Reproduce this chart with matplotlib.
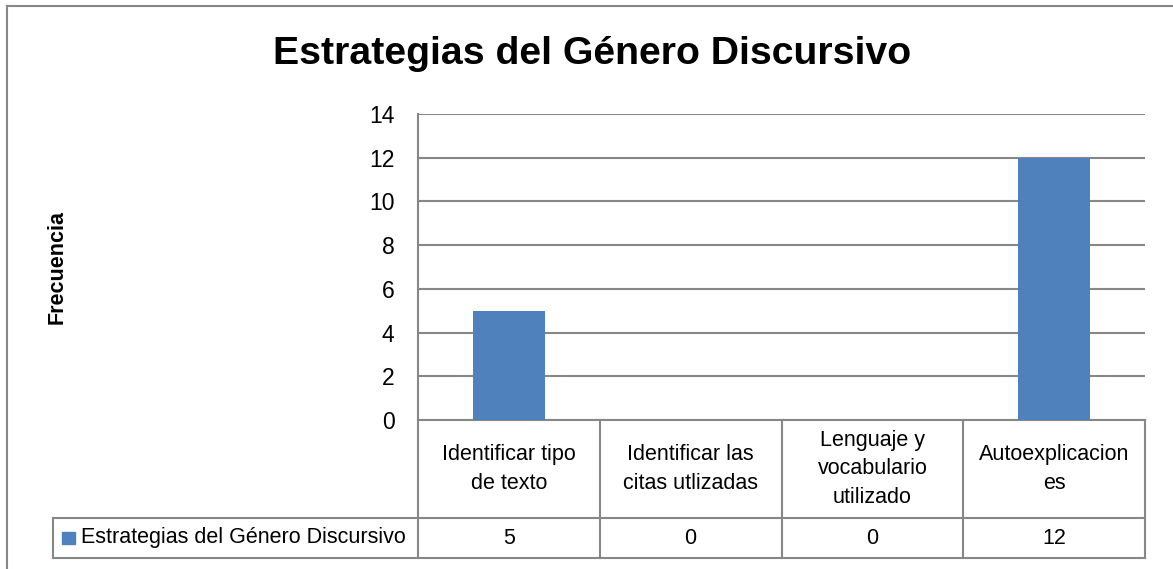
import matplotlib
matplotlib.use("Agg")
import matplotlib.pyplot as plt
from matplotlib.lines import Line2D
from matplotlib.patches import Rectangle

plt.rcParams['font.family'] = ['Liberation Sans', 'DejaVu Sans']

# datos
categorias = ["Identificar tipo\nde texto", "Identificar las\ncitas utlizadas",
              "Lenguaje y\nvocabulario\nutilizado", "Autoexplicacion\nes"]
valores = [5, 0, 0, 12]
serie = "Estrategias del Género Discursivo"
titulo = "Estrategias del Género Discursivo"
ylabel = "Frecuencia"
yticks = [0, 2, 4, 6, 8, 10, 12, 14]

W, H = 1173, 569
azul = "#4F81BD"
gris = "#878787"

fig = plt.figure(figsize=(W / 100, H / 100), dpi=100)

# marco exterior (solo arriba e izquierda visibles)
fig.add_artist(Line2D([7 / W, 7 / W], [0, 1 - 6 / H], color=gris, lw=1.5))
fig.add_artist(Line2D([7 / W, 1], [1 - 6 / H, 1 - 6 / H], color=gris, lw=1.5))

left, right, top, bottom = 418, 1145, 114, 420
ax = fig.add_axes([left / W, 1 - bottom / H, (right - left) / W, (bottom - top) / H])

x = list(range(len(categorias)))
ax.bar(x, valores, width=0.4, color=azul, zorder=3)
ax.set_xlim(-0.5, len(categorias) - 0.5)
ax.set_ylim(0, 14)
ax.set_yticks(yticks)
ax.set_yticklabels([str(v) for v in yticks], fontsize=16.5)
ax.tick_params(axis='y', length=0, pad=17)
ax.set_xticks([])
ax.grid(axis='y', color=gris, lw=1.5, zorder=0)
for s in ['top', 'right', 'bottom']:
    ax.spines[s].set_visible(False)
ax.spines['left'].set_color(gris)
ax.spines['left'].set_linewidth(1.5)

fig.text(592 / W, 1 - 54 / H, titulo, ha='center', va='center',
         fontsize=28.3, fontweight='bold')
fig.text(57 / W, 1 - 267 / H, ylabel, ha='center', va='center',
         rotation=90, fontsize=15.5, fontweight='bold')

# tabla de datos
tr = ax.get_xaxis_transform()
h1 = -(518 - 420) / (bottom - top)
h2 = -(558 - 420) / (bottom - top)
n = len(categorias)
unidad = n / (right - left)
xl = (53 - left) * unidad - 0.5
kw = dict(color=gris, lw=1.5, transform=tr, clip_on=False)
for b in [i - 0.5 for i in range(n + 1)]:
    ax.add_line(Line2D([b, b], [0, h2], **kw))
ax.add_line(Line2D([xl, xl], [h1, h2], **kw))
ax.add_line(Line2D([-0.5, n - 0.5], [0, 0], **kw))
ax.add_line(Line2D([xl, n - 0.5], [h1, h1], **kw))
ax.add_line(Line2D([xl, n - 0.5], [h2, h2], **kw))

for i, (c, v) in enumerate(zip(categorias, valores)):
    ax.text(i, h1 / 2, c, transform=tr, ha='center', va='center',
            fontsize=15.5, linespacing=1.45)
    ax.text(i, (h1 + h2) / 2, str(v), transform=tr, ha='center',
            va='center', fontsize=15.5)

ax.add_patch(Rectangle(((62 - left) * unidad - 0.5, (h1 + h2) / 2 - 0.021),
                       13 * unidad, 0.042, color=azul, transform=tr,
                       clip_on=False))
ax.text((81 - left) * unidad - 0.5, (h1 + h2) / 2, serie, transform=tr,
        ha='left', va='center', fontsize=15.5)

fig.savefig("out.png", dpi=100)
